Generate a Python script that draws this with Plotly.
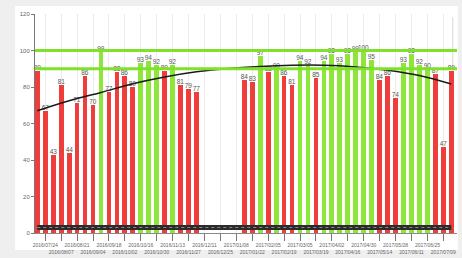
import pandas as pd
import plotly.graph_objects as go

# weekly scores (0 = no data)
scores = [89, 67, 43, 81, 44, 71, 86, 70, 99, 77, 88, 86, 80, 93, 94, 92, 89, 92, 81, 79, 77,
          0, 0, 0, 0, 0,
          84, 83, 97, 88, 90, 86, 81, 94, 92, 85, 94, 98, 93, 98, 99, 100, 95, 84, 86, 74,
          93, 98, 92, 90, 87, 47, 89]
weeks = pd.date_range("2016-07-17", periods=len(scores), freq="7D")

tick_labels = ["2016/07/24", "2016/08/07", "2016/08/21", "2016/09/04", "2016/09/18", "2016/10/02",
               "2016/10/16", "2016/10/30", "2016/11/13", "2016/11/27", "2016/12/11", "2016/12/25",
               "2017/01/08", "2017/01/22", "2017/02/05", "2017/02/19", "2017/03/05", "2017/03/19",
               "2017/04/02", "2017/04/16", "2017/04/30", "2017/05/14", "2017/05/28", "2017/06/11",
               "2017/06/25", "2017/07/09"]

# trend curve at every 4th week
trend_idx = [0, 4, 8, 12, 16, 20, 24, 28, 32, 36, 40, 44, 48, 52]
trend_val = [67, 72.5, 77, 81.8, 85.5, 88.3, 90.2, 91.3, 91.9, 91.9, 91, 89.2, 86.3, 81.6]

targets = [90, 100]
base_level = [3] * len(scores)

RED = "#ee3d3a"
GREEN = "#8ee63a"
LINE_GREEN = "#7fe12a"

colors = [GREEN if v >= 90 else RED for v in scores]
texts = [str(v) if v > 0 else "" for v in scores]

fig = go.Figure()
fig.add_trace(go.Bar(
    x=weeks, y=scores, marker=dict(color=colors, line=dict(width=0)),
    width=4.2 * 86400000, text=texts, textposition="outside", constraintext="none",
    textfont=dict(size=6.5, color="#555"), cliponaxis=False, showlegend=False,
))

# bottom dark band
fig.add_trace(go.Scatter(x=weeks, y=base_level, mode="lines",
                         line=dict(color="#2b2b2b", width=5), showlegend=False))
fig.add_trace(go.Scatter(x=weeks, y=base_level, mode="lines",
                         line=dict(color="#8a8a8a", width=1, dash="dot"), showlegend=False))

# target lines
for t in targets:
    fig.add_shape(type="line", xref="paper", x0=0, x1=1, yref="y", y0=t, y1=t,
                  line=dict(color=LINE_GREEN, width=3), layer="above")

# trend
fig.add_trace(go.Scatter(x=[weeks[i] for i in trend_idx], y=trend_val, mode="lines",
                         line=dict(color="#1a1a1a", width=1.5, shape="spline"), showlegend=False))

# white card behind the chart
fig.add_shape(type="rect", xref="paper", yref="paper", x0=-0.047, x1=1.002, y0=-0.078, y1=1.037,
              fillcolor="white", line=dict(width=0), layer="below")
fig.add_shape(type="line", xref="paper", yref="paper", x0=0.99, x1=0.99, y0=0, y1=0.985,
              line=dict(color="#d8d8d8", width=1), layer="below")

tick_vals = [pd.Timestamp(s.replace("/", "-")) for s in tick_labels]
tick_text = [s if i % 2 == 0 else "<br>" + s for i, s in enumerate(tick_labels)]

fig.update_layout(
    width=462, height=258,
    margin=dict(l=35, r=5, t=14, b=25),
    paper_bgcolor="#efefef", plot_bgcolor="white",
    font=dict(family="Liberation Sans, Arial, sans-serif", color="#666"),
    bargap=0,
    xaxis=dict(
        range=["2016-07-15", "2017-07-21"], tickvals=tick_vals, ticktext=tick_text,
        tickfont=dict(size=5, color="#666"), ticks="outside", ticklen=7, tickcolor="#777",
        showgrid=True, gridcolor="#ebebeb", gridwidth=1, automargin=False,
        showline=True, linecolor="#888", zeroline=False, tickangle=0,
    ),
    yaxis=dict(
        range=[0, 120], tickvals=[0, 20, 40, 60, 80, 100, 120], automargin=False,
        tickfont=dict(size=6, color="#666"), ticks="outside", ticklen=3, tickcolor="#777",
        showgrid=False, showline=True, linecolor="#777", linewidth=1, zeroline=False,
    ),
)

fig.write_html("out.html", config={"displayModeBar": False},
               post_script="document.body.style.margin='0';document.body.style.overflow='hidden';")
